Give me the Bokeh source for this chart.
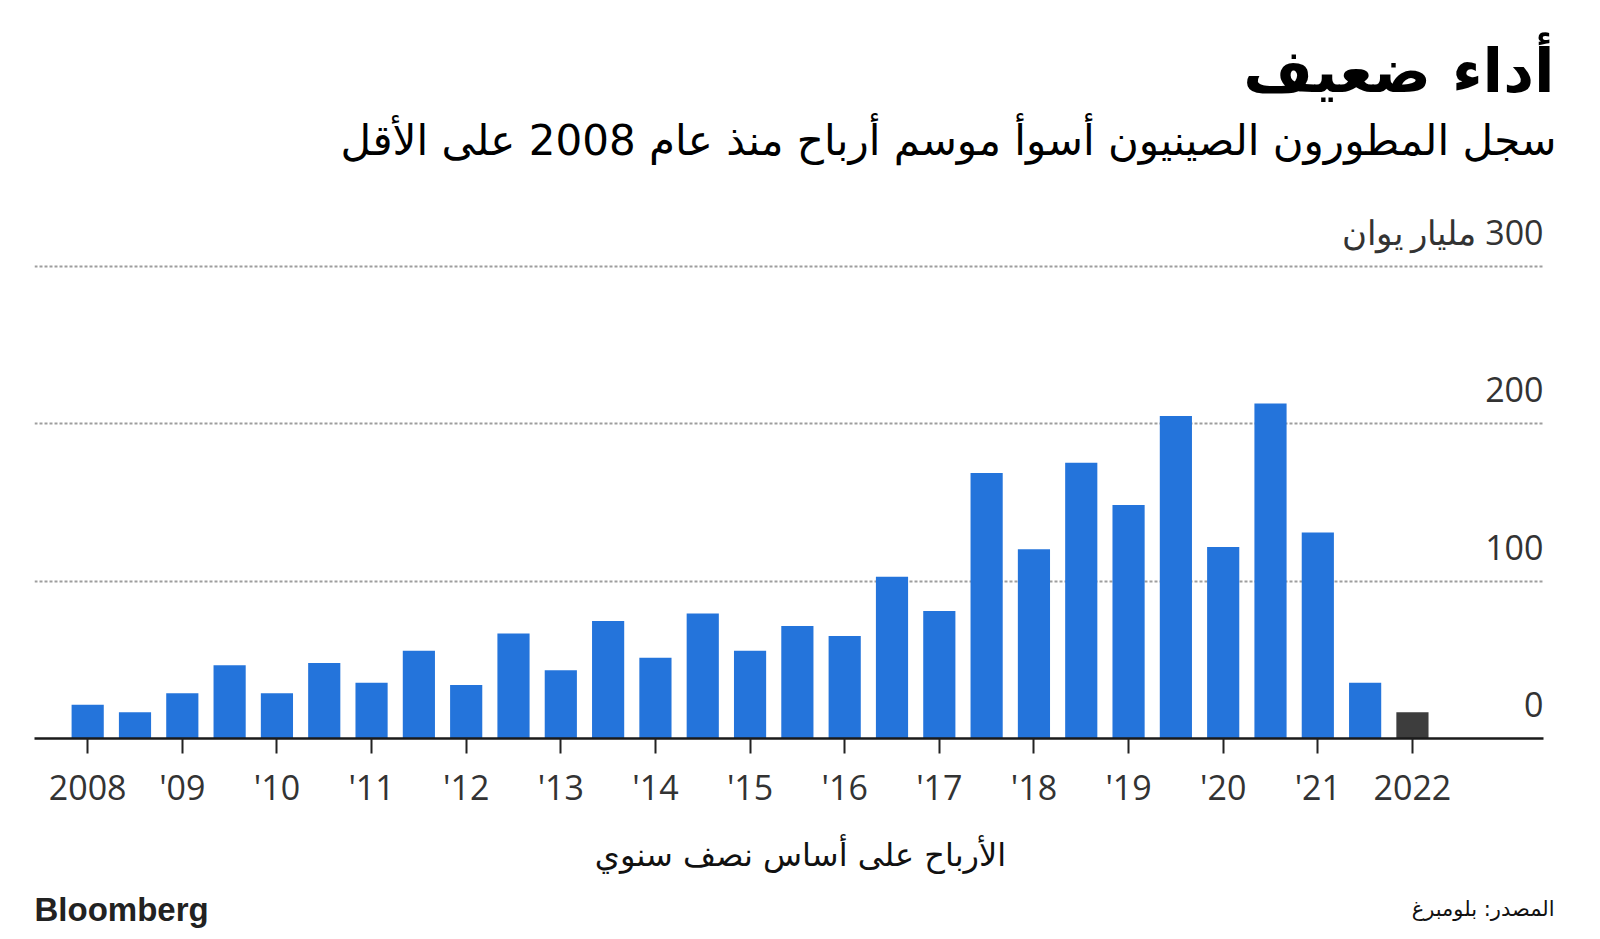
from bokeh.plotting import figure
from bokeh.layouts import column
from bokeh.models import Range1d, FixedTicker, Grid
from bokeh.core.properties import value
from bokeh.embed import file_html
from bokeh.resources import INLINE

# ---- data (half-yearly earnings, billion yuan) ----
periods = ["2008 H1", "2008 H2", "2009 H1", "2009 H2", "2010 H1", "2010 H2",
           "2011 H1", "2011 H2", "2012 H1", "2012 H2", "2013 H1", "2013 H2",
           "2014 H1", "2014 H2", "2015 H1", "2015 H2", "2016 H1", "2016 H2",
           "2017 H1", "2017 H2", "2018 H1", "2018 H2", "2019 H1", "2019 H2",
           "2020 H1", "2020 H2", "2021 H1", "2021 H2", "2022 H1"]
earnings = [21.5, 16.6, 28.8, 46.5, 28.8, 47.9, 35.4, 55.8, 34.0, 66.7,
            43.3, 74.6, 51.3, 79.4, 55.8, 71.5, 65.1, 102.8, 81.0, 168.6,
            120.3, 175.2, 148.4, 204.9, 121.7, 212.8, 130.9, 35.4, 16.6]
year_labels = ["2008", "'09", "'10", "'11", "'12", "'13", "'14", "'15",
               "'16", "'17", "'18", "'19", "'20", "'21", "2022"]
y_tick_values = [0, 100, 200, 300]
y_tick_labels = ["0", "100", "200", "\u200f300 مليار يوان"]

title_text = "أداء ضعيف"
subtitle_text = "سجل المطورون الصينيون أسوأ موسم أرباح منذ عام 2008 على الأقل"
xlabel_text = "الأرباح على أساس نصف سنوي"
source_text = "المصدر: بلومبرغ"
brand_text = "Bloomberg"

BLUE = "#2474db"
DARK = "#3d3d3d"
ARABIC = "DejaVu Sans"
W = 1592


def text_panel(height):
    f = figure(width=W, height=height, output_backend="svg", toolbar_location=None,
               x_range=Range1d(0, W), y_range=Range1d(height, 0),
               x_axis_location=None, y_axis_location=None, title=None,
               min_border=0, frame_align=False)
    f.outline_line_color = None
    f.grid.visible = False
    return f


# ---- header ----
head = text_panel(200)
head.text(x=[1554], y=[70], text=[title_text], text_align="right",
          text_baseline="alphabetic", text_font=value(ARABIC),
          text_font_style="bold", text_font_size="60px", text_color="#000000")
head.text(x=[1556], y=[140], text=[subtitle_text], text_align="right",
          text_baseline="alphabetic", text_font=value(ARABIC),
          text_font_size="42px", text_color="#000000")

# ---- main chart ----
idx = list(range(len(earnings)))
colors = [BLUE] * (len(earnings) - 1) + [DARK]
tick_pos = [i for i, p in enumerate(periods) if p.endswith("H1")]

X0, X1 = -1.124, 30.77
Y1 = 341.8

p = figure(width=W, height=620, output_backend="svg", toolbar_location=None,
           x_range=Range1d(X0, X1), y_range=Range1d(0, Y1),
           y_axis_location=None, title=None,
           min_border_left=34, min_border_right=49,
           min_border_top=0, min_border_bottom=82)
p.outline_line_color = None
p.grid.visible = False

p.add_layout(Grid(dimension=1, ticker=FixedTicker(ticks=y_tick_values[1:]),
                  grid_line_color="#9e9e9e", grid_line_width=2,
                  grid_line_dash="3 2"), "center")

p.vbar(x=idx, top=earnings, bottom=0, width=0.68, fill_color=colors,
       line_color=None)

p.text(x=[X1] * len(y_tick_values), y=y_tick_values, text=y_tick_labels,
       text_align="right", text_baseline="alphabetic", y_offset=-34,
       text_font=value("Open Sans"), text_font_size="34px",
       text_color="#333333")

ax = p.xaxis[0]
ax.ticker = FixedTicker(ticks=tick_pos)
ax.major_label_overrides = {t: lab for t, lab in zip(tick_pos, year_labels)}
ax.axis_line_color = "#1a1a1a"
ax.axis_line_width = 2.5
ax.major_tick_line_color = "#222222"
ax.major_tick_line_width = 2
ax.major_tick_in = 0
ax.major_tick_out = 15
ax.minor_tick_line_color = None
ax.major_label_text_font = "Open Sans"
ax.major_label_text_font_size = "34px"
ax.major_label_text_color = "#333333"
ax.major_label_standoff = 10

# ---- footer ----
foot = text_panel(110)
foot.text(x=[800], y=[34], text=[xlabel_text], text_align="center",
          text_baseline="alphabetic", text_font=value(ARABIC),
          text_font_size="32px", text_color="#111111")
foot.text(x=[34], y=[89], text=[brand_text], text_align="left",
          text_baseline="alphabetic", text_font=value("Liberation Sans"),
          text_font_style="bold", text_font_size="33px", text_color="#222222")
foot.text(x=[1554], y=[88], text=[source_text], text_align="right",
          text_baseline="alphabetic", text_font=value(ARABIC),
          text_font_size="21px", text_color="#111111")

layout = column(head, p, foot, spacing=0)
open("out.html", "w").write(file_html(layout, INLINE))
